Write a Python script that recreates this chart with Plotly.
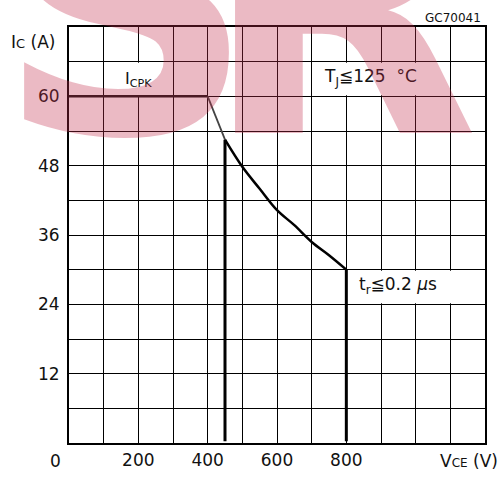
import plotly.graph_objects as go

# ---- data ----
vce_flat = [0, 400]
ic_flat = [60, 60]
vce_curve = [400, 450, 500, 550, 600, 650, 700, 750, 800]
ic_curve = [60, 52.5, 47.8, 44.0, 40.3, 37.7, 34.8, 32.5, 30]
vce_drop = [450, 800]
ic_drop_top = [52.5, 30]

x_tickvals = list(range(0, 1201, 100))
x_ticktext = ["", "", "200", "", "400", "", "600", "", "800", "", "", "", ""]
y_tickvals = list(range(0, 73, 6))
y_ticktext = ["", "", "12", "", "24", "", "36", "", "48", "", "60", "", ""]

FONT = "DejaVu Sans"
W, H = 502, 477
L, R, T, B = 69, 17, 27, 34
pw, ph = W - L - R, H - T - B

def px(x):  # page pixel x -> paper
    return (x - L) / pw

def py(y):  # page pixel y -> paper
    return (H - B - y) / ph

fig = go.Figure()

fig.add_trace(go.Scatter(x=vce_flat, y=ic_flat, mode="lines",
                         line=dict(color="#111", width=2.5), hoverinfo="skip"))
fig.add_trace(go.Scatter(x=vce_curve[:2], y=ic_curve[:2], mode="lines",
                         line=dict(color="#444", width=1.8), hoverinfo="skip"))
fig.add_trace(go.Scatter(x=vce_curve[1:], y=ic_curve[1:], mode="lines",
                         line=dict(color="#000", width=2.5, shape="spline", smoothing=1.0),
                         hoverinfo="skip"))
for xv, yt in zip(vce_drop, ic_drop_top):
    fig.add_trace(go.Scatter(x=[xv, xv], y=[0.3, yt], mode="lines",
                             line=dict(color="#000", width=3), hoverinfo="skip"))

for x0, x1, y0, y1 in [(100, 300, 60, 66), (700, 1100, 60, 66), (800, 1200, 24, 30)]:
    fig.add_shape(type="rect", x0=x0 + 2, x1=x1 - 2, y0=y0 + 0.2, y1=y1 - 0.2,
                  xref="x", yref="y", fillcolor="white", line=dict(width=0),
                  layer="between")

ann = []
ann.append(dict(x=155, y=63, xref="x", yref="y", text="I<sub>CPK</sub>",
                showarrow=False, xanchor="left", yanchor="middle",
                font=dict(family=FONT, size=16, color="#111")))
ann.append(dict(x=730, y=63.2, xref="x", yref="y", text="T<sub>J</sub>≦125  °C",
                showarrow=False, xanchor="left", yanchor="middle",
                font=dict(family=FONT, size=17, color="#111")))
ann.append(dict(x=832, y=27.2, xref="x", yref="y", text="t<sub>r</sub>≦0.2 <i>μ</i>s",
                showarrow=False, xanchor="left", yanchor="middle",
                font=dict(family=FONT, size=17, color="#111")))
ann.append(dict(x=px(57), y=py(42), xref="paper", yref="paper",
                text="I<span style='font-size:13px'>C</span> (A)",
                showarrow=False, xanchor="right", yanchor="middle",
                font=dict(family=FONT, size=17, color="#111")))
ann.append(dict(x=px(500), y=py(461), xref="paper", yref="paper",
                text="V<span style='font-size:12px'>CE</span> (V)",
                showarrow=False, xanchor="right", yanchor="middle",
                font=dict(family=FONT, size=17, color="#111")))
ann.append(dict(x=px(55), y=py(461), xref="paper", yref="paper", text="0",
                showarrow=False, xanchor="center", yanchor="middle",
                font=dict(family=FONT, size=17, color="#111")))
ann.append(dict(x=px(483), y=py(18), xref="paper", yref="paper", text="GC70041",
                showarrow=False, xanchor="right", yanchor="middle",
                font=dict(family=FONT, size=12, color="#111")))
# watermark letters
for letter, cx in [("S", 125), ("R", 340)]:
    ann.append(dict(x=px(cx), y=py(220), xref="paper", yref="paper", text="<b>%s</b>" % letter,
                    showarrow=False, xanchor="center", yanchor="bottom",
                    font=dict(family=FONT, size=360, color="rgba(195,45,75,0.33)")))
fig.update_layout(annotations=ann)

axis_common = dict(showline=True, linewidth=2, linecolor="#000", mirror=True,
                   showgrid=True, gridcolor="#000", gridwidth=1, zeroline=False,
                   ticks="outside", tickcolor="rgba(0,0,0,0)", automargin=False,
                   tickfont=dict(family=FONT, size=17, color="#111"))
fig.update_xaxes(range=[0, 1200], tickvals=x_tickvals, ticktext=x_ticktext,
                 ticklen=1, **axis_common)
fig.update_yaxes(range=[0, 72], tickvals=y_tickvals, ticktext=y_ticktext,
                 ticklen=4, **axis_common)

fig.update_layout(width=W, height=H, margin=dict(l=L, r=R, t=T, b=B),
                  paper_bgcolor="white", plot_bgcolor="white", showlegend=False)
fig.write_html("out.html", config={"displayModeBar": False},
               post_script="document.body.style.margin='0';document.body.style.overflow='hidden';")
